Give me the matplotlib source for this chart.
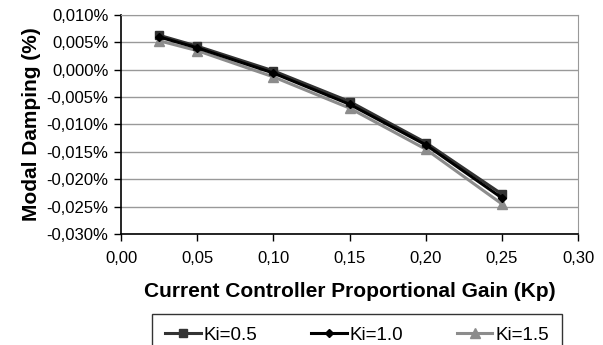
import matplotlib.pyplot as plt
from matplotlib.ticker import FuncFormatter, MultipleLocator

plt.rcParams['font.family'] = ['Liberation Sans', 'DejaVu Sans']

kp = [0.025, 0.05, 0.10, 0.15, 0.20, 0.25]
# modal damping in percent
damp_ki05 = [0.0063, 0.0043, -0.0002, -0.0058, -0.0133, -0.0227]
damp_ki10 = [0.0060, 0.0040, -0.0006, -0.0063, -0.0137, -0.0234]
damp_ki15 = [0.0053, 0.0035, -0.0013, -0.0070, -0.0145, -0.0245]

fig = plt.figure(figsize=(6.03, 3.45), dpi=100)
ax = fig.add_axes([121 / 603, 1 - 234 / 345, 457 / 603, 219 / 345])

ax.plot(kp, damp_ki05, color='#333333', lw=2.2, marker='s', ms=6, label='Ki=0.5', zorder=4)
ax.plot(kp, damp_ki10, color='black', lw=2.2, marker='D', ms=4, label='Ki=1.0', zorder=5)
ax.plot(kp, damp_ki15, color='#8c8c8c', lw=2.2, marker='^', ms=7, label='Ki=1.5', zorder=3)

ax.set_xlim(0, 0.30)
ax.set_ylim(-0.030, 0.010)
ax.xaxis.set_major_locator(MultipleLocator(0.05))
ax.yaxis.set_major_locator(MultipleLocator(0.005))
ax.xaxis.set_major_formatter(FuncFormatter(lambda v, p: f'{v:.2f}'.replace('.', ',')))
ax.yaxis.set_major_formatter(FuncFormatter(lambda v, p: f'{v:.3f}%'.replace('.', ',').replace('-0,000', '0,000')))

ax.grid(True, axis='y', color='#999999', lw=1)
ax.set_axisbelow(True)
ax.spines['top'].set_color('#999999')
ax.spines['right'].set_color('#999999')
ax.spines['left'].set_linewidth(1.2)
ax.spines['bottom'].set_linewidth(1.2)
ax.tick_params(axis='both', direction='out', length=5, width=1, labelsize=12, pad=4)
ax.tick_params(axis='x', pad=7)

ax.set_xlabel('Current Controller Proportional Gain (Kp)', fontsize=15, fontweight='bold', labelpad=12)
ax.set_ylabel('Modal Damping (%)', fontsize=15, fontweight='bold', labelpad=4)

fig.legend(loc='upper left', bbox_to_anchor=(152 / 603, 1 - 317 / 345, 410 / 603, 0.01),
           mode='expand', ncol=3, fontsize=13.5, frameon=True, fancybox=False,
           edgecolor='black', handlelength=1.9, borderpad=0.7, handletextpad=0.15,
           columnspacing=3.0, borderaxespad=0)

fig.savefig('out.png', dpi=100)
